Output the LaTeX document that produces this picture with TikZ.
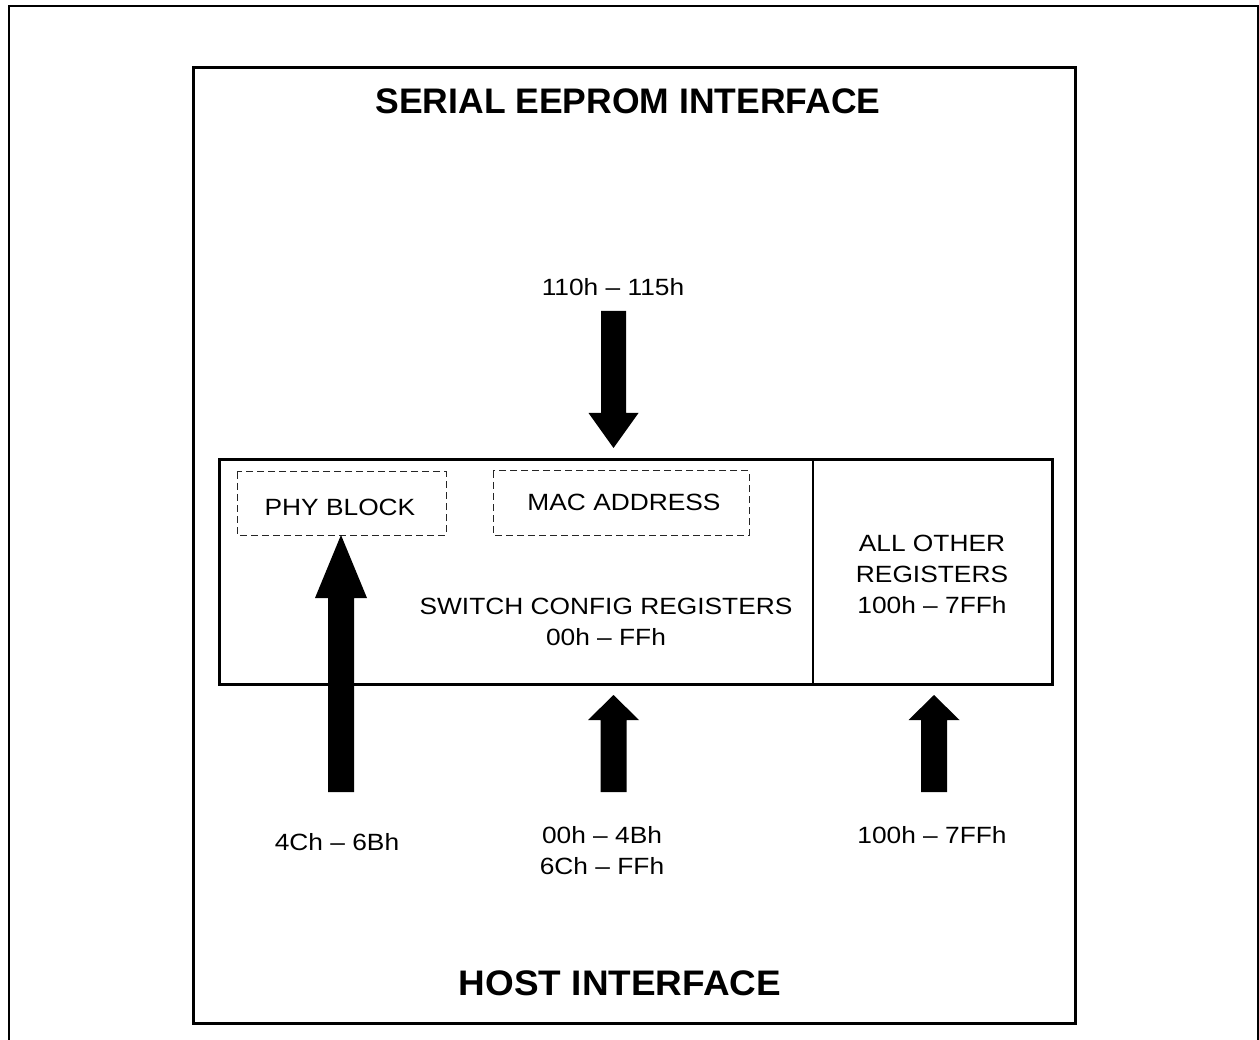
\documentclass[tikz,border=0pt]{standalone}
\usepackage{fontspec}
\setmainfont[Ligatures=TeX]{Liberation Sans}
\newfontfamily\lblfont[FakeStretch=1.12,Ligatures=TeX]{Liberation Sans}
\newfontfamily\ttlfont[FakeStretch=1.04,Ligatures=TeX]{Liberation Sans}
\begin{document}
\begin{tikzpicture}[x=1pt,y=-1pt,
  lbl/.style={font=\lblfont\fontsize{23.5}{31}\selectfont, align=center, inner sep=0pt},
  title/.style={font=\fontsize{35.5}{40}\selectfont\bfseries, inner sep=0pt},
  title2/.style={font=\ttlfont\fontsize{35.5}{40}\selectfont\bfseries, inner sep=0pt},
  dashbox/.style={draw=black!85, line width=1pt, dash pattern=on 7pt off 4pt},
  thickbox/.style={draw=black, line width=3pt},
  bigarrow/.style={fill=black}]
\useasboundingbox (0,0) rectangle (1259,1040);
\clip (0,0) rectangle (1259,1040);
\fill[white] (0,0) rectangle (1259,1040);
% outer frame
\draw[line width=2.2pt] (9,1060) -- (9,6) -- (1258.5,6) -- (1258.5,1060);
% inner box
\draw[thickbox] (193,68) rectangle (1075,1023);
% register box
\draw[thickbox] (219,460) rectangle (1052,684);
\draw[line width=2.2pt] (813,460) -- (813,684);
% dashed boxes
\draw[dashbox] (237,472) rectangle (446,535);
\draw[dashbox] (493,471) rectangle (749,535);
% titles
\node[title] (top) at (628,101) {SERIAL EEPROM INTERFACE};
\node[title2] (bot) at (620,983) {HOST INTERFACE};
% labels
\node[lbl] (phy) at (340,507) {PHY BLOCK};
\node[lbl] (mac) at (624,502) {MAC ADDRESS};
\node[lbl] (sw) at (606,622) {SWITCH CONFIG REGISTERS\\00h \textendash{} FFh};
\node[lbl] (other) at (932,574) {ALL OTHER\\REGISTERS\\100h \textendash{} 7FFh};
\node[lbl] (l110) at (613,287) {110h \textendash{} 115h};
\node[lbl] (l4c) at (337,842) {4Ch \textendash{} 6Bh};
\node[lbl] (l00) at (602,851) {00h \textendash{} 4Bh\\6Ch \textendash{} FFh};
\node[lbl] (l100) at (932,835) {100h \textendash{} 7FFh};
% down arrow
\fill[bigarrow] (601,311) -- (626,311) -- (626,413) -- (638.5,413) -- (613.5,448) -- (588.5,413) -- (601,413) -- cycle;
% left up arrow (to PHY block)
\fill[bigarrow] (328,792) -- (354,792) -- (354,598) -- (367,598) -- (341,535) -- (315,598) -- (328,598) -- cycle;
% middle up arrow
\fill[bigarrow] (600.5,792) -- (626.5,792) -- (626.5,720) -- (639,720) -- (613.5,695) -- (588,720) -- (600.5,720) -- cycle;
% right up arrow
\fill[bigarrow] (921,792) -- (947,792) -- (947,720) -- (959.5,720) -- (934,695) -- (908.5,720) -- (921,720) -- cycle;
\end{tikzpicture}
\end{document}
